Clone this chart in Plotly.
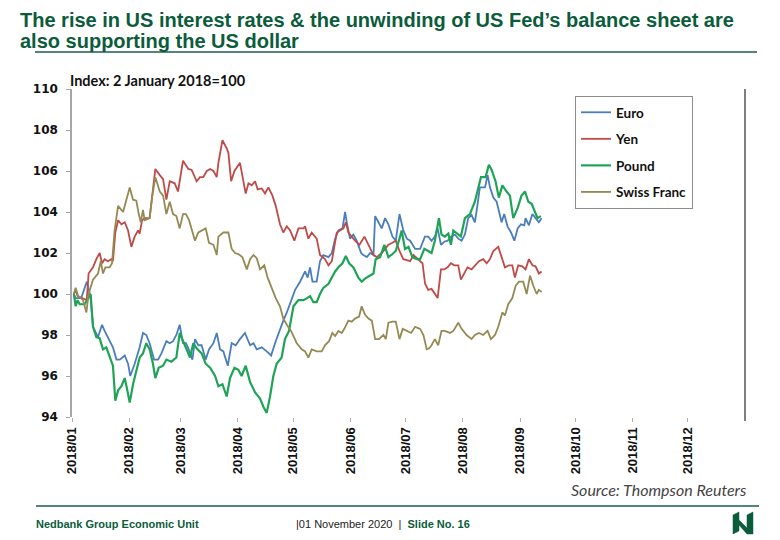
import pandas as pd
import plotly.graph_objects as go

# ---------------- data (days since 2018-01-01, index value; 2 Jan 2018 = 100) ----------------
EURO = [(1, 100.0), (2, 99.8), (5, 99.8), (8, 100.6), (10, 99.9), (11.4, 98.4), (14.1, 97.9), (16.3, 98.5),
        (17.7, 98.2), (19.5, 97.9), (22.2, 97.4), (24.1, 96.8), (25.9, 96.8), (28.6, 97.0), (30.4, 96.6),
        (31.6, 96.0), (34, 96.6), (36.7, 97.4), (38.5, 98.1), (40.3, 98.0), (42.1, 97.6), (44.5, 96.8),
        (46.7, 96.8), (48.5, 97.1), (51.2, 97.7), (53, 97.6), (54.8, 97.7), (56.6, 98.0), (58.4, 98.5),
        (60.2, 97.6), (61.8, 97.6), (63.1, 97.35), (65.3, 96.8), (66.7, 97.8), (68.5, 97.5), (70.3, 97.5),
        (72.5, 96.8), (74.3, 97.3), (76.7, 97.6), (78.5, 98.1), (80.3, 97.3), (82.1, 97.2), (84.5, 96.5),
        (86.6, 97.6), (88.8, 97.5), (91.1, 97.8), (93.8, 98.1), (96.6, 97.5), (98.4, 97.6), (100.2, 97.3),
        (102.9, 97.4), (105.6, 97.2), (108.0, 97.0), (110.1, 97.6), (112.8, 98.3), (114.6, 98.7),
        (116.5, 99.1), (118.8, 99.7), (121.0, 100.2), (123.7, 100.6), (126.4, 101.1), (127.8, 100.8),
        (129.1, 101.3), (130.4, 100.6), (132.7, 100.6), (134.5, 101.6), (136.3, 101.9), (139.1, 101.8),
        (140.9, 102.0), (142.7, 102.7), (144.5, 103.1), (146.7, 103.2), (148.1, 104.0), (149.0, 103.5),
        (150.8, 102.7), (152.6, 102.9), (154.4, 102.6), (156.8, 102.0), (158.0, 101.9), (159.9, 101.8),
        (161.7, 102.0), (163.5, 101.9), (164.4, 103.8), (166.2, 103.5), (168.0, 103.2), (169.8, 103.7),
        (171.6, 103.4), (173.8, 102.8), (175.6, 102.6), (177.6, 103.9), (179.7, 103.1), (181.6, 102.7),
        (183.4, 102.6), (186.1, 102.2), (188.8, 102.2), (191.4, 102.8), (193.2, 102.8), (195.0, 102.6),
        (196.8, 102.8), (198.3, 103.2), (200.1, 102.4), (201.9, 102.55), (203.7, 102.6), (205.5, 102.8),
        (207.7, 102.9), (209.5, 102.7), (211.3, 102.6), (213.1, 102.9), (214.9, 103.7), (216.7, 103.85),
        (218.5, 103.5), (220.0, 104.4), (221.2, 105.2), (224.0, 105.2), (225.4, 105.8), (226.7, 105.2),
        (228.5, 104.7), (230.3, 104.5), (231.5, 104.1), (233.0, 103.5), (234.4, 103.9), (236.2, 103.3),
        (238.1, 103.0), (239.9, 102.6), (241.7, 103.2), (243.5, 103.4), (245.3, 103.35), (246.0, 103.7),
        (247.8, 103.35), (249.7, 103.9), (251.4, 103.7), (253.2, 103.5), (254.7, 103.7)]

YEN = [(1, 100.0), (2, 100.2), (3, 99.9), (6, 99.8), (8, 99.7), (9, 101.0), (11.4, 101.3), (13.2, 101.7),
       (15, 102.0), (16.3, 101.5), (17.7, 101.7), (19.5, 101.6), (21.3, 101.7), (22.2, 101.6), (23.5, 103.0),
       (25, 103.6), (26.8, 103.4), (28.6, 103.5), (30.4, 103.1), (32.2, 102.3), (34, 102.8), (35.8, 103.1),
       (36.7, 102.95), (38, 103.6), (39.4, 103.7), (42.1, 103.7), (43.4, 104.7), (45.2, 106.1), (47.6, 105.8),
       (49.4, 105.6), (51.2, 104.6), (53, 105.5), (55.7, 105.4), (57.5, 105.0), (60.2, 106.5), (63.1, 106.1),
       (64.9, 106.05), (67.6, 105.5), (69.4, 105.7), (71.2, 105.7), (73.1, 106.0), (74.9, 106.1),
       (76.7, 106.0), (78.5, 105.7), (79.4, 106.4), (81.6, 107.5), (83.9, 107.1), (84.8, 106.9),
       (86.3, 105.5), (88.1, 106.0), (91.1, 106.4), (92.4, 105.7), (94.2, 104.9), (95.7, 105.4),
       (97.5, 105.3), (99.3, 105.5), (100.7, 105.1), (102.9, 105.15), (104.7, 104.9), (106.5, 105.2),
       (108.7, 104.8), (110.5, 104.3), (112.8, 103.4), (114.6, 103.0), (116.5, 103.3), (118.3, 103.1),
       (120.6, 102.6), (122.8, 103.2), (125.5, 103.2), (126.4, 103.3), (128.2, 102.7), (130.0, 103.0),
       (132.7, 102.7), (134.5, 101.9), (137.2, 101.7), (139.1, 101.4), (140.9, 101.6), (143.6, 103.0),
       (145.4, 103.1), (147.2, 103.2), (148.5, 103.5), (149.9, 103.0), (151.7, 102.8), (153.5, 102.6),
       (155.9, 102.4), (158.6, 102.8), (160.8, 102.4), (163.5, 101.9), (165.3, 101.8), (168.0, 102.0),
       (169.8, 102.2), (171.6, 102.4), (173.8, 102.5), (175.6, 102.6), (177.6, 102.1), (179.7, 101.7),
       (181.6, 101.65), (183.4, 101.6), (185.2, 101.9), (187.9, 101.7), (190.1, 101.5), (191.5, 100.5),
       (193.2, 100.2), (195.0, 100.25), (196.8, 100.0), (198.3, 99.8), (200.1, 101.2), (201.9, 101.2),
       (203.7, 101.3), (205.5, 101.5), (207.3, 101.4), (209.5, 101.4), (210.9, 100.7), (212.7, 101.0),
       (214.5, 101.3), (216.7, 101.2), (218.5, 101.4), (220.7, 101.6), (223.0, 101.7), (224.9, 101.5),
       (226.7, 101.7), (228.5, 102.1), (231.2, 102.3), (233.0, 101.8), (234.8, 101.3), (237.0, 101.4),
       (238.8, 101.4), (240.2, 100.8), (242.0, 101.4), (244.2, 101.35), (246.0, 101.2), (247.8, 101.7),
       (249.7, 101.4), (251.4, 101.35), (253.2, 101.0), (254.7, 101.1)]

POUND = [(1, 100.0), (2, 99.4), (3, 99.7), (4.2, 99.5), (6.9, 99.5), (8.7, 99.75), (10.1, 100.0), (11.4, 98.4),
         (13.2, 97.9), (15, 97.85), (16.8, 97.3), (18.6, 97.4), (20.4, 96.9), (22.2, 96.5), (23.5, 94.8),
         (25, 95.3), (26.8, 95.5), (28.6, 95.9), (30, 95.3), (31.3, 94.7), (33.1, 95.6), (34.9, 96.3),
         (36.7, 96.9), (38.5, 97.1), (40.3, 97.6), (42.1, 97.3), (43.9, 96.6), (45.2, 95.9), (47, 96.4),
         (49.4, 96.5), (51.2, 96.8), (53.9, 96.7), (56.6, 96.9), (58.4, 98.1), (61.1, 97.5), (64.0, 96.9),
         (65.8, 97.6), (67.6, 97.35), (70.3, 97.1), (72.5, 96.6), (74.9, 96.4), (77.6, 96.0), (79.4, 95.5),
         (81.6, 95.6), (83.9, 95.0), (85.7, 95.9), (88.1, 96.4), (90.2, 96.3), (92.0, 96.0), (94.2, 96.5),
         (96.6, 95.7), (99.3, 95.2), (102.0, 94.9), (103.8, 94.5), (105.6, 94.2), (107.4, 95.0), (109.2, 96.0),
         (111.0, 96.6), (113.7, 96.9), (115.5, 97.8), (117.7, 98.2), (120.1, 99.4), (122.8, 99.7),
         (125.5, 99.7), (127.5, 99.8), (129.1, 99.9), (130.9, 99.6), (132.7, 99.6), (134.5, 100.0),
         (136.3, 100.3), (139.1, 100.5), (140.9, 100.8), (142.7, 101.1), (144.5, 101.3), (146.7, 101.5),
         (148.5, 101.85), (150.3, 101.5), (152.6, 101.3), (155.3, 100.8), (157.1, 100.6), (158.9, 100.75),
         (161.7, 100.9), (163.5, 101.0), (164.7, 101.7), (167.1, 101.8), (169.4, 102.4), (171.6, 101.8),
         (173.8, 101.95), (175.6, 102.1), (177.6, 102.7), (178.8, 103.1), (180.6, 102.2), (182.5, 102.3),
         (184.6, 101.8), (187.0, 101.7), (188.8, 101.7), (191.1, 102.2), (193.2, 102.1), (195.0, 102.0),
         (196.8, 102.6), (199.0, 103.7), (200.4, 102.9), (202.2, 102.8), (204.1, 102.95), (205.5, 102.4),
         (206.8, 103.1), (208.6, 102.95), (210.9, 102.8), (213.1, 103.7), (215.8, 103.9), (218.5, 104.5),
         (220.3, 105.2), (221.8, 105.7), (224.3, 105.7), (226.1, 106.3), (227.6, 106.05), (229.7, 105.5),
         (231.5, 104.7), (233.4, 105.3), (235.7, 105.0), (237.5, 104.8), (239.3, 103.7), (241.7, 104.2),
         (243.8, 104.8), (245.7, 105.0), (247.5, 104.5), (249.3, 104.4), (251.1, 104.0), (252.5, 103.7),
         (254.3, 103.8)]

SWISS_FRANC = [(1, 100.0), (2, 100.3), (3.3, 99.9), (6, 99.7), (7.8, 99.1), (9, 100.0), (11.4, 100.7),
               (14.1, 101.0), (15.6, 101.6), (16.8, 101.0), (18.1, 101.3), (20.4, 101.3), (21.7, 101.5),
               (23.1, 103.1), (25, 104.3), (27.7, 104.0), (29.5, 104.6), (31.3, 105.2), (33.1, 104.6),
               (34.9, 104.55), (36.2, 103.9), (37.3, 103.5), (38.5, 104.1), (39.4, 103.6), (42.1, 103.7),
               (43.4, 104.7), (45.2, 105.7), (47.6, 105.0), (49.4, 104.8), (51.2, 103.9), (53, 104.5),
               (54.8, 103.9), (56.6, 103.8), (58.4, 103.2), (60.2, 103.9), (61.8, 103.9), (63.5, 103.6),
               (65.3, 103.1), (66.7, 102.6), (68.5, 103.0), (70.3, 103.1), (72.5, 103.2), (74.3, 102.5),
               (76.7, 102.4), (78.5, 101.9), (79.4, 102.8), (82.1, 103.0), (84.8, 103.0), (86.6, 102.2),
               (88.4, 102.0), (90.2, 101.95), (92.4, 101.8), (94.8, 101.2), (96.6, 101.7), (98.4, 101.9),
               (100.2, 101.75), (102.0, 101.2), (104.3, 101.4), (106.1, 100.8), (108.3, 100.3), (110.5, 99.8),
               (112.8, 99.4), (114.6, 98.8), (116.5, 98.5), (118.8, 98.2), (121.9, 97.6), (124.6, 97.3),
               (126.4, 97.2), (128.2, 96.9), (130.0, 97.3), (132.7, 97.2), (135.4, 97.2), (137.2, 97.5),
               (139.4, 97.7), (141.2, 98.1), (142.7, 97.95), (144.5, 98.2), (146.3, 98.1), (147.7, 98.3),
               (149.9, 98.7), (151.7, 98.65), (153.5, 98.8), (155.7, 98.9), (157.1, 99.4), (158.9, 99.0),
               (160.8, 98.8), (162.6, 98.7), (164.4, 97.8), (166.5, 97.8), (168.9, 98.0), (170.2, 97.8),
               (171.6, 98.6), (173.8, 98.65), (175.6, 98.65), (177.6, 97.8), (179.4, 98.3), (181.6, 98.2),
               (183.9, 98.1), (186.1, 98.4), (188.8, 98.3), (190.6, 98.0), (192.4, 97.3), (193.7, 97.35),
               (195.0, 97.5), (196.8, 97.8), (198.6, 97.5), (200.4, 98.2), (202.2, 98.2), (205.0, 98.1),
               (206.8, 98.2), (209.5, 98.6), (211.3, 98.3), (214.0, 98.0), (216.7, 97.8), (218.5, 98.0),
               (220.7, 98.1), (223.0, 98.0), (225.4, 98.2), (227.2, 97.8), (229.4, 98.0), (231.2, 98.4),
               (233.4, 99.1), (234.8, 98.95), (236.6, 99.5), (238.8, 99.8), (240.6, 100.4), (242.4, 100.6),
               (244.7, 100.6), (246.6, 100.0), (248.4, 100.9), (250.2, 100.4), (252.0, 100.0), (253.2, 100.2),
               (254.7, 100.1)]

SERIES_NAMES = ["Euro", "Yen", "Pound", "Swiss Franc"]
SERIES_COLORS = ["#4a7ebb", "#be4b48", "#1fa457", "#948a54"]
MONTH_STARTS = ["2018-%02d-01" % m for m in range(1, 13)]
MONTH_LABELS = ["2018/01", "2018/02", "2018/03", "2018/04", "2018/05", "2018/06",
                "2018/07", "2018/08", "2018/09", "2018/10", "2018/11", "2018/12"]
BASE_DATE = pd.Timestamp("2018-01-01")

# ---------------- layout helpers (page pixel coords; page adds an 8px body margin) ----------------
OFF = 8
W, H = 780, 540
PLOT_LEFT, PLOT_RIGHT, PLOT_TOP, PLOT_BOTTOM = 72, 745, 89, 417   # in page pixels
L = PLOT_LEFT - OFF
T = PLOT_TOP - OFF
R = W - (PLOT_RIGHT - OFF)
B = H - (PLOT_BOTTOM - OFF)
PW, PH = PLOT_RIGHT - PLOT_LEFT, PLOT_BOTTOM - PLOT_TOP


def px_x(px):
    return (px - PLOT_LEFT) / PW


def px_y(py):
    return (PLOT_BOTTOM - py) / PH


GREEN = "#0b5c3b"
NARROW = "Liberation Sans Narrow, Arial Narrow, Liberation Sans"

fig = go.Figure()
for name, color, data in zip(SERIES_NAMES, SERIES_COLORS, [EURO, YEN, POUND, SWISS_FRANC]):
    days = [d for d, _ in data]
    vals = [v for _, v in data]
    dates = BASE_DATE + pd.to_timedelta(days, unit="D")
    fig.add_trace(go.Scatter(
        x=dates, y=vals, mode="lines", name=name, legendgroup=name,
        line=dict(color=color, width=2.2 if name == "Pound" else 1.8),
    ))

annotations = [
    dict(text="The rise in US interest rates &amp; the unwinding of US Fed’s balance sheet are",
         x=px_x(18), y=px_y(20), xanchor="left", yanchor="middle"),
    dict(text="also supporting the US dollar",
         x=px_x(18), y=px_y(41), xanchor="left", yanchor="middle"),
]
for a in annotations:
    a.update(xref="paper", yref="paper", showarrow=False,
             font=dict(family=NARROW, size=20, color=GREEN, weight="bold"))

annotations += [
    dict(text="Index: 2 January 2018=100", x=px_x(68), y=px_y(80), xanchor="left", yanchor="middle",
         xref="paper", yref="paper", showarrow=False,
         font=dict(family="Lato", size=14.5, color="#111", weight="bold")),
    dict(text="<i>Source: Thompson Reuters</i>", x=px_x(749), y=px_y(489), xanchor="right", yanchor="middle",
         xref="paper", yref="paper", showarrow=False,
         font=dict(family="Lato", size=16, color="#444")),
    dict(text="<b>Nedbank Group Economic Unit</b>", x=px_x(34), y=px_y(524), xanchor="left", yanchor="middle",
         xref="paper", yref="paper", showarrow=False,
         font=dict(family=NARROW, size=11, color=GREEN)),
    dict(text="|01 November 2020  |  <b><span style='color:%s'>Slide No. 16</span></b>" % GREEN,
         x=px_x(294), y=px_y(524), xanchor="left", yanchor="middle",
         xref="paper", yref="paper", showarrow=False,
         font=dict(family=NARROW, size=11, color="#222")),
]

logo_pts = [(0, 3), (6, 0), (6, 8), (14, 16), (14, 3), (20, 0), (20, 22), (14, 22), (6, 13), (6, 19), (0, 22)]
ox, oy = 733, 512
logo_path = "M " + " L ".join("%.5f,%.5f" % (px_x(ox + a), px_y(oy + b)) for a, b in logo_pts) + " Z"

shapes = [
    dict(type="line", xref="paper", yref="paper", x0=px_x(35), x1=px_x(757), y0=px_y(52), y1=px_y(52),
         line=dict(color="#1d5c4a", width=1.5)),
    dict(type="line", xref="paper", yref="paper", x0=px_x(36), x1=px_x(759), y0=px_y(506), y1=px_y(506),
         line=dict(color="#1d5c4a", width=1.5)),
    dict(type="line", xref="paper", yref="paper", x0=1, x1=1, y0=px_y(421), y1=1,
         line=dict(color="#7f7f7f", width=2)),
    dict(type="path", xref="paper", yref="paper", path=logo_path, fillcolor=GREEN,
         line=dict(color=GREEN, width=0.5)),
]

fig.update_layout(
    width=W, height=H,
    margin=dict(l=L, r=R, t=T, b=B),
    paper_bgcolor="white", plot_bgcolor="white",
    showlegend=True,
    legend=dict(x=px_x(575), y=px_y(96), xanchor="left", yanchor="top",
                bordercolor="#8c8c8c", borderwidth=1, bgcolor="white",
                font=dict(family="Lato", size=13.5, color="#111", weight="bold"),
                itemwidth=30, traceorder="grouped", tracegroupgap=6),
    annotations=annotations,
    shapes=shapes,
    xaxis=dict(type="date", range=["2018-01-01", "2019-01-01"],
               tickmode="array", tickvals=MONTH_STARTS, ticktext=MONTH_LABELS,
               tickangle=-90, ticks="outside", ticklen=4, tickcolor="#b0b0b0",
               tickfont=dict(family="Liberation Sans", size=13, color="#111", weight="bold"),
               showgrid=False, zeroline=False, showline=False),
    yaxis=dict(range=[94, 110], dtick=2, tick0=94,
               ticks="outside", ticklen=4, tickcolor="#a6a6a6",
               tickfont=dict(family="DejaVu Sans", size=12, color="#111", weight="bold"),
               ticklabelstandoff=6,
               showgrid=False, zeroline=False, showline=True, linecolor="#a6a6a6", linewidth=1.5),
)

fig.write_html("out.html")
